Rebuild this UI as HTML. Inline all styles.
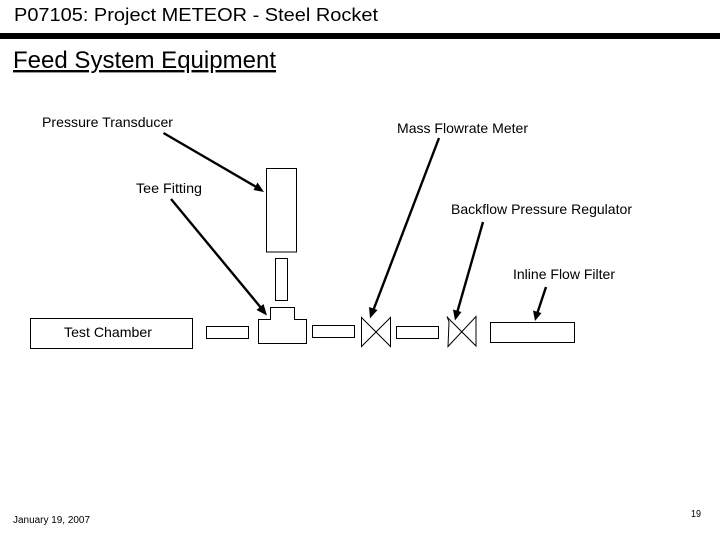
<!DOCTYPE html>
<html>
<head>
<meta charset="utf-8">
<style>
html,body{margin:0;padding:0;background:#fff;width:720px;height:540px;overflow:hidden}
svg{display:block}
text{font-family:"Liberation Sans",Arial,sans-serif;fill:#000}
.s{fill:#fff;stroke:#000;stroke-width:1}
.a{stroke:#000;stroke-width:2.4;fill:none}
.h{fill:#000;stroke:none}
</style>
</head>
<body>
<svg width="720" height="540" viewBox="0 0 720 540" xmlns="http://www.w3.org/2000/svg">
<text x="14" y="21" font-size="18" textLength="364" lengthAdjust="spacingAndGlyphs">P07105: Project METEOR - Steel Rocket</text>
<rect x="0" y="33" width="720" height="6" fill="#000"/>
<text x="13" y="68" font-size="24" textLength="263" lengthAdjust="spacingAndGlyphs" text-decoration="underline">Feed System Equipment</text>

<text x="42" y="127" font-size="14" textLength="131" lengthAdjust="spacingAndGlyphs">Pressure Transducer</text>
<text x="397" y="133" font-size="14" textLength="131" lengthAdjust="spacingAndGlyphs">Mass Flowrate Meter</text>
<text x="136" y="193" font-size="14" textLength="66" lengthAdjust="spacingAndGlyphs">Tee Fitting</text>
<text x="451" y="214" font-size="14" textLength="181" lengthAdjust="spacingAndGlyphs">Backflow Pressure Regulator</text>
<text x="513" y="279" font-size="14" textLength="102" lengthAdjust="spacingAndGlyphs">Inline Flow Filter</text>

<rect class="s" x="266.5" y="168.5" width="30" height="83.5"/>
<rect class="s" x="275.5" y="258.5" width="12" height="42"/>
<polygon class="s" points="258.5,319.5 270.5,319.5 270.5,307.5 294.5,307.5 294.5,319.5 306.5,319.5 306.5,343.5 258.5,343.5"/>
<rect class="s" x="30.5" y="318.5" width="162" height="30"/>
<rect class="s" x="206.5" y="326.5" width="42" height="12"/>
<rect class="s" x="312.5" y="325.5" width="42" height="12"/>
<polygon class="s" points="361.5,317.5 390.5,346.5 390.5,317.5 361.5,346.5"/>
<rect class="s" x="396.5" y="326.5" width="42" height="12"/>
<polygon class="s" points="447,316.5 449,322 448,346.5 476,316.5 476,346 448,318"/>
<rect class="s" x="490.5" y="322.5" width="84" height="20"/>

<text x="64" y="337" font-size="14" textLength="88" lengthAdjust="spacingAndGlyphs">Test Chamber</text>

<line class="a" x1="163.5" y1="133" x2="258" y2="188"/>
<polygon class="h" points="264,192 253.5,190 257.5,182.5"/>
<line class="a" x1="171" y1="199" x2="262" y2="309"/>
<polygon class="h" points="267,315.5 256.5,310 263.5,304"/>
<line class="a" x1="439" y1="138" x2="373" y2="311"/>
<polygon class="h" points="370,318.5 369,307 377.5,310"/>
<line class="a" x1="483" y1="222" x2="457" y2="313"/>
<polygon class="h" points="455,320.5 453,309.5 461.5,312"/>
<line class="a" x1="546" y1="287" x2="537" y2="314"/>
<polygon class="h" points="535,321 533,310.5 541.5,313"/>

<text x="13" y="523" font-size="10" textLength="77" lengthAdjust="spacingAndGlyphs">January 19, 2007</text>
<text x="691" y="517" font-size="10" textLength="10" lengthAdjust="spacingAndGlyphs">19</text>
</svg>
</body>
</html>
